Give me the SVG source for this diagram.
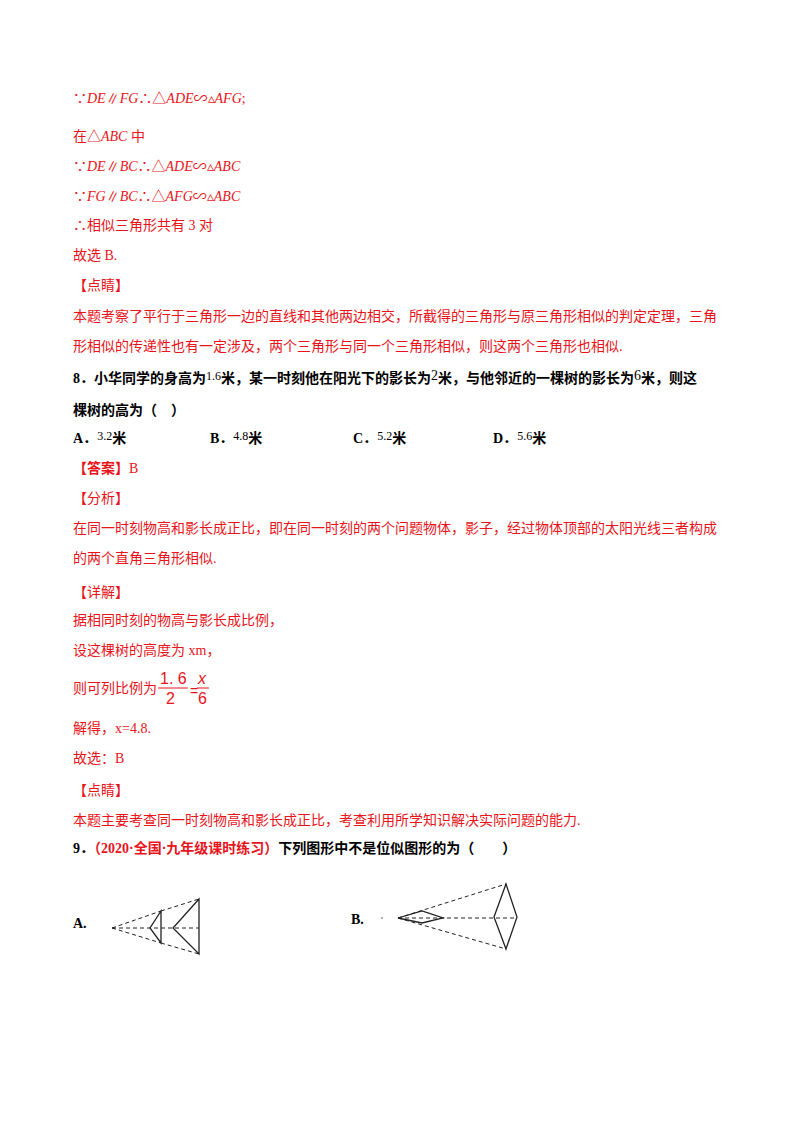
<svg xmlns="http://www.w3.org/2000/svg" width="800" height="1132" viewBox="0 0 800 1132">
<style>
text{font-family:"Liberation Serif","Noto Sans CJK SC",serif;font-size:14px}
.r{fill:#e8141b}
.k{fill:#000}
.b{font-weight:bold}
.i{font-style:italic}
.s{stroke:#222;stroke-width:1.3;fill:none}
.d{stroke:#222;stroke-width:1;fill:none;stroke-dasharray:4,3}
</style>
<rect width="800" height="1132" fill="#fff"/>
<g class="r">
<text x="73" y="103">∵<tspan class="i">DE</tspan>∥<tspan class="i">FG</tspan>∴△<tspan class="i">ADE</tspan>∽▵<tspan class="i">AFG</tspan>;</text>
<text x="73" y="141">在△<tspan class="i">ABC</tspan> 中</text>
<text x="73" y="171">∵<tspan class="i">DE</tspan>∥<tspan class="i">BC</tspan>∴△<tspan class="i">ADE</tspan>∽▵<tspan class="i">ABC</tspan></text>
<text x="73" y="201">∵<tspan class="i">FG</tspan>∥<tspan class="i">BC</tspan>∴△<tspan class="i">AFG</tspan>∽▵<tspan class="i">ABC</tspan></text>
<text x="73" y="230">∴相似三角形共有 3 对</text>
<text x="73" y="260">故选 B.</text>
<text x="73" y="290">【点睛】</text>
<text x="73" y="321">本题考察了平行于三角形一边的直线和其他两边相交，所截得的三角形与原三角形相似的判定定理，三角</text>
<text x="73" y="351">形相似的传递性也有一定涉及，两个三角形与同一个三角形相似，则这两个三角形也相似.</text>
</g>
<g class="k b">
<text x="73" y="383">8．小华同学的身高为<tspan font-weight="normal" font-size="12" dy="-3">1.6</tspan><tspan dy="3">米，某一时刻他在阳光下的影长为</tspan><tspan font-weight="normal" dy="-3">2</tspan><tspan dy="3">米，与他邻近的一棵树的影长为</tspan><tspan font-weight="normal" dy="-3">6</tspan><tspan dy="3">米，则这</tspan></text>
<text x="73" y="415">棵树的高为（　）</text>
<text x="73" y="443">A．<tspan font-weight="normal" font-size="12" dy="-3">3.2</tspan><tspan dy="3">米</tspan></text>
<text x="210" y="443">B．<tspan font-weight="normal" font-size="12" dy="-3">4.8</tspan><tspan dy="3">米</tspan></text>
<text x="353" y="443">C．<tspan font-weight="normal" font-size="12" dy="-3">5.2</tspan><tspan dy="3">米</tspan></text>
<text x="493" y="443">D．<tspan font-weight="normal" font-size="12" dy="-3">5.6</tspan><tspan dy="3">米</tspan></text>
</g>
<g class="r">
<text x="73" y="473"><tspan class="b">【答案】</tspan>B</text>
<text x="73" y="503">【分析】</text>
<text x="73" y="533">在同一时刻物高和影长成正比，即在同一时刻的两个问题物体，影子，经过物体顶部的太阳光线三者构成</text>
<text x="73" y="563">的两个直角三角形相似.</text>
<text x="73" y="597">【详解】</text>
<text x="73" y="625">据相同时刻的物高与影长成比例，</text>
<text x="73" y="655">设这棵树的高度为 xm，</text>
<text x="73" y="693">则可列比例为</text>
<text x="160" y="684" style="font-family:'Liberation Sans',sans-serif;font-size:16px">1. 6</text>
<line x1="158" y1="688" x2="188" y2="688" stroke="#e8141b" stroke-width="1"/>
<text x="166" y="704" style="font-family:'Liberation Sans',sans-serif;font-size:16px">2</text>
<text x="190" y="696" style="font-family:'Liberation Sans',sans-serif;font-size:14px">=</text>
<text x="198" y="684" class="i" style="font-family:'Liberation Sans',sans-serif;font-size:16px">x</text>
<line x1="197" y1="688" x2="209" y2="688" stroke="#e8141b" stroke-width="1"/>
<text x="198" y="704" style="font-family:'Liberation Sans',sans-serif;font-size:16px">6</text>
<text x="73" y="733">解得，x=4.8.</text>
<text x="73" y="763">故选：B</text>
<text x="73" y="795">【点睛】</text>
<text x="73" y="825">本题主要考查同一时刻物高和影长成正比，考查利用所学知识解决实际问题的能力.</text>
</g>
<text x="73" y="853" class="b k">9．<tspan class="r">（2020·全国·九年级课时练习）</tspan>下列图形中不是位似图形的为（　　）</text>
<g id="figA">
<text x="73" y="928" class="b k">A.</text>
<path class="d" d="M112 928L161 911M112 928L161 943M161 911L199 899M161 943L199 954M112 928L199 928"/>
<path class="s" d="M161 911L150 928L161 943ZM199 899L173 928L199 954Z"/>
</g>
<g id="figB">
<text x="351" y="924" class="b k">B.</text>
<circle cx="382" cy="918" r="0.8" fill="#444"/>
<path class="d" d="M398 918L506 884M398 918L506 949M398 918L517 918"/>
<path class="s" d="M398 918L422 911L443 918L422 923ZM494 917L506 884L517 917L506 949Z"/>
</g>
</svg>
